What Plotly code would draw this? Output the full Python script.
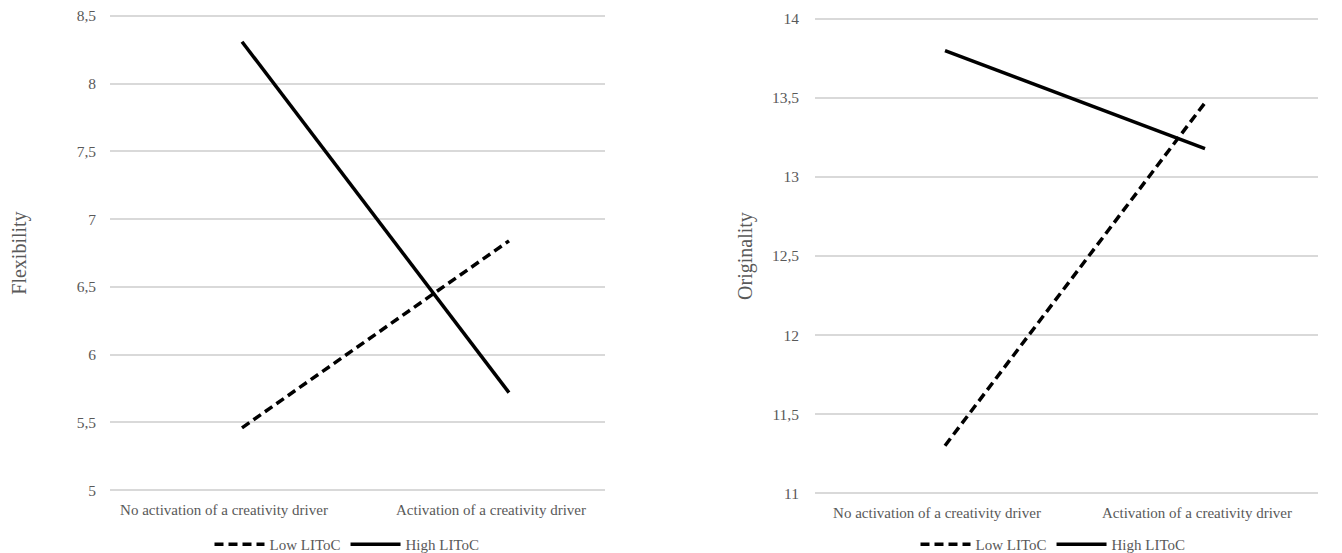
import plotly.graph_objects as go

categories = ["No activation of a creativity driver", "Activation of a creativity driver"]
flex_low = [5.46, 6.84]
flex_high = [8.31, 5.72]
orig_low = [11.30, 13.47]
orig_high = [13.80, 13.18]
flex_ticks = [5, 5.5, 6, 6.5, 7, 7.5, 8, 8.5]
orig_ticks = [11, 11.5, 12, 12.5, 13, 13.5, 14]

# page has an 8px body margin; figure coordinates = page coordinates - 8
OFF = 8
W, H = 1342 - OFF, 553
FONT = "Liberation Serif"
GRAY = "#595959"
GRID = "#d9d9d9"

fig = go.Figure()

fig.add_trace(go.Scatter(x=categories, y=flex_low, mode="lines", name="Low LIToC",
                         line=dict(color="black", width=3.5, dash="9px,5px"),
                         xaxis="x", yaxis="y", legend="legend"))
fig.add_trace(go.Scatter(x=categories, y=flex_high, mode="lines", name="High LIToC",
                         line=dict(color="black", width=3.5),
                         xaxis="x", yaxis="y", legend="legend"))
fig.add_trace(go.Scatter(x=categories, y=orig_low, mode="lines", name="Low LIToC",
                         line=dict(color="black", width=3.5, dash="9px,5px"),
                         xaxis="x2", yaxis="y2", legend="legend2"))
fig.add_trace(go.Scatter(x=categories, y=orig_high, mode="lines", name="High LIToC",
                         line=dict(color="black", width=3.5),
                         xaxis="x2", yaxis="y2", legend="legend2"))

def px_x(a, b):
    return [(a - OFF) / W, (b - OFF) / W]

def px_y(top, bottom):
    return [1 - (bottom - OFF) / H, 1 - (top - OFF) / H]

xcommon = dict(type="category", showgrid=False, zeroline=False, showline=False,
               ticks="", automargin=False, fixedrange=True,
               tickfont=dict(family=FONT, size=15, color=GRAY))
ycommon = dict(showgrid=True, gridcolor=GRID, gridwidth=1.5, zeroline=False,
               showline=False, ticks="", automargin=False, ticklabeloverflow="allow",
               tickfont=dict(family=FONT, size=15.5, color=GRAY))

fig.update_layout(
    width=W, height=H,
    margin=dict(l=0, r=0, t=0, b=0),
    paper_bgcolor="white", plot_bgcolor="white",
    separators=", ",
    font=dict(family=FONT, color=GRAY),
    xaxis=dict(xcommon, domain=px_x(110, 605), anchor="y",
               range=[-132 / 267, 1 + 96 / 267], ticklabelshift=-18,
               ticklabelstandoff=6),
    yaxis=dict(ycommon, domain=px_y(13, 494), anchor="x",
               range=[4.978, 8.522], tickvals=flex_ticks, ticklabelstandoff=13,
               title=dict(text="Flexibility", font=dict(family=FONT, size=20, color=GRAY),
                          standoff=44)),
    xaxis2=dict(xcommon, domain=px_x(815, 1318), anchor="y2",
                range=[-130 / 260, 1 + 113 / 260], ticklabelshift=-8,
                ticklabelstandoff=6),
    yaxis2=dict(ycommon, domain=px_y(16, 497), anchor="x2",
                range=[10.981, 14.019], tickvals=orig_ticks, ticklabelstandoff=15,
                title=dict(text="Originality", font=dict(family=FONT, size=20, color=GRAY),
                           standoff=13)),
    legend=dict(orientation="h", x=(347 - OFF) / W, xanchor="center",
                y=1 - (545 - OFF) / H, yanchor="middle",
                font=dict(family=FONT, size=15, color=GRAY), bgcolor="rgba(0,0,0,0)",
                itemwidth=50),
    legend2=dict(orientation="h", x=(1053 - OFF) / W, xanchor="center",
                 y=1 - (545 - OFF) / H, yanchor="middle",
                 font=dict(family=FONT, size=15, color=GRAY), bgcolor="rgba(0,0,0,0)",
                 itemwidth=50),
    showlegend=True,
)

fig.write_html("out.html")
